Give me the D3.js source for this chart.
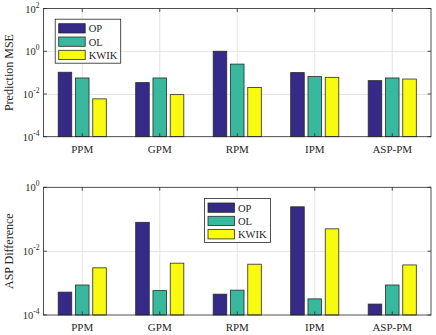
<!DOCTYPE html>
<html><head><meta charset="utf-8">
<script src="https://cdn.jsdelivr.net/npm/d3@7/dist/d3.min.js"></script>
<style>
body{margin:0;background:#fff;}
text{font-family:"Liberation Serif","Times New Roman",serif;fill:#262626;}
</style></head>
<body><svg id="c" width="436" height="335"></svg>
<script>
const categories = ["PPM","GPM","RPM","IPM","ASP-PM"];
const seriesNames = ["OP","OL","KWIK"];
const colors = ["#352a87","#38b99e","#f9fb0e"];
// Top panel: Prediction MSE
const mseOP   = [0.104, 0.034, 1.0, 0.10, 0.042];
const mseOL   = [0.056, 0.056, 0.25, 0.065, 0.056];
const mseKWIK = [0.0059, 0.0093, 0.02, 0.06, 0.05];
// Bottom panel: ASP Difference
const aspOP   = [5.2e-4, 0.08, 4.5e-4, 0.245, 2.2e-4];
const aspOL   = [8.7e-4, 5.8e-4, 6.0e-4, 3.2e-4, 8.7e-4];
const aspKWIK = [3.0e-3, 4.2e-3, 3.9e-3, 0.05, 3.7e-3];
const mseTicks = [-4,-2,0,2];
const aspTicks = [-4,-2,0];

const svg = d3.select("#c");
const L = 43.5, R = 431;

function panel(cfg){
  const g = svg.append("g");
  const x = d3.scaleBand().domain(categories).range([L,R]).padding(0);
  const y = d3.scaleLog().domain(cfg.domain).range([cfg.bottom, cfg.top]);
  const bw = x.bandwidth();
  // grid
  g.selectAll(".gy").data(cfg.ticks.map(t=>Math.pow(10,t)).filter(v=>v>cfg.domain[0]&&v<cfg.domain[1]))
    .join("line").attr("x1",L).attr("x2",R).attr("y1",d=>Math.round(y(d))+0.5).attr("y2",d=>Math.round(y(d))+0.5)
    .attr("stroke","#e6e6e6").attr("stroke-width",1);
  g.selectAll(".gx").data(categories).join("line")
    .attr("x1",d=>x(d)+bw/2).attr("x2",d=>x(d)+bw/2).attr("y1",cfg.top).attr("y2",cfg.bottom)
    .attr("stroke","#e6e6e6").attr("stroke-width",1);
  // bars
  const barW = bw*0.175, step = bw*0.223;
  cfg.series.forEach((vals,si)=>{
    g.selectAll(".b"+si).data(vals).join("rect")
      .attr("x",(d,i)=>x(categories[i])+bw/2+(si-1)*step-barW/2)
      .attr("width",barW)
      .attr("y",d=>y(d))
      .attr("height",d=>cfg.bottom-y(d))
      .attr("fill",colors[si]).attr("stroke","#2a2a2a").attr("stroke-width",0.8);
  });
  // box
  g.append("rect").attr("x",L).attr("y",cfg.top).attr("width",R-L).attr("height",cfg.bottom-cfg.top)
    .attr("fill","none").attr("stroke","#262626").attr("stroke-width",0.8);
  // ticks
  const tl = 3.5;
  cfg.ticks.forEach(t=>{
    const yy = y(Math.pow(10,t));
    g.append("line").attr("x1",L).attr("x2",L+tl).attr("y1",yy).attr("y2",yy).attr("stroke","#262626").attr("stroke-width",0.8);
    g.append("line").attr("x1",R).attr("x2",R-tl).attr("y1",yy).attr("y2",yy).attr("stroke","#262626").attr("stroke-width",0.8);
    const tx = g.append("text").attr("x",L-4).attr("y",yy+4).attr("text-anchor","end").attr("font-size",10.5);
    tx.append("tspan").text("10");
    tx.append("tspan").attr("dy",-5).attr("font-size",7.5).text(t);
  });
  categories.forEach(c=>{
    const xx = x(c)+bw/2;
    g.append("line").attr("x1",xx).attr("x2",xx).attr("y1",cfg.bottom).attr("y2",cfg.bottom-tl).attr("stroke","#262626").attr("stroke-width",0.8);
    g.append("line").attr("x1",xx).attr("x2",xx).attr("y1",cfg.top).attr("y2",cfg.top+tl).attr("stroke","#262626").attr("stroke-width",0.8);
    g.append("text").attr("x",xx).attr("y",cfg.bottom+16).attr("text-anchor","middle").attr("font-size",11).text(c);
  });
  // y label
  g.append("text").attr("transform",`translate(13.3,${(cfg.top+cfg.bottom)/2}) rotate(-90)`)
    .attr("text-anchor","middle").attr("font-size",12).text(cfg.label);
  // legend
  const lg = g.append("g");
  lg.append("rect").attr("x",cfg.legend[0]).attr("y",cfg.legend[1]).attr("width",cfg.legend[2]).attr("height",44)
    .attr("fill","#fff").attr("stroke","#262626").attr("stroke-width",0.8);
  seriesNames.forEach((s,i)=>{
    const yy = cfg.legend[1]+4.5+i*13.3;
    lg.append("rect").attr("x",cfg.legend[0]+3.5).attr("y",yy).attr("width",26.5).attr("height",9.3)
      .attr("fill",colors[i]).attr("stroke","#2a2a2a").attr("stroke-width",0.8);
    lg.append("text").attr("x",cfg.legend[0]+33.5).attr("y",yy+8.5).attr("font-size",10.5).text(s);
  });
}

panel({domain:[1e-4,1e2], top:8.5, bottom:136.7, ticks:mseTicks, series:[mseOP,mseOL,mseKWIK],
       label:"Prediction MSE", legend:[55.2,19.2,65.5]});
panel({domain:[1e-4,1e0], top:187.3, bottom:315, ticks:aspTicks, series:[aspOP,aspOL,aspKWIK],
       label:"ASP Difference", legend:[204.5,198.5,66]});
</script></body></html>
